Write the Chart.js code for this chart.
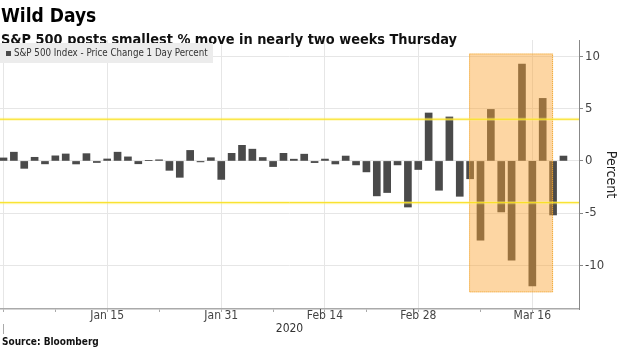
<!DOCTYPE html>
<html><head><meta charset="utf-8">
<script src="https://cdn.jsdelivr.net/npm/chart.js@4.4.1/dist/chart.umd.min.js"></script>
<style>
body{margin:0;background:#fff;}
#wrap{position:relative;width:620px;height:348px;overflow:hidden;font-family:"DejaVu Sans Condensed","DejaVu Sans",sans-serif;font-stretch:condensed;}
#c{position:absolute;left:0;top:0;}
.t{position:absolute;white-space:nowrap;color:#000;}
#title{left:1px;top:6px;font-size:19px;line-height:19px;font-weight:bold;}
#sub{left:1px;top:32px;font-size:14.4px;line-height:14px;font-weight:bold;color:#111;}
#legend{position:absolute;left:0;top:43px;width:213px;height:20px;background:#ececec;}
#legend .sq{position:absolute;left:6px;top:8px;width:5px;height:5px;background:#4a4a4a;}
#legend .lt{position:absolute;left:14px;top:5px;font-size:9.7px;line-height:10px;color:#333;white-space:nowrap;}
#src{left:2px;top:337px;font-size:10px;line-height:10px;font-weight:bold;color:#111;}
</style></head>
<body><div id="wrap">
<canvas id="c" width="620" height="348"></canvas>
<div class="t" id="title">Wild Days</div>
<div class="t" id="sub">S&amp;P 500 posts smallest % move in nearly two weeks Thursday</div>
<div id="legend"><div class="sq"></div><div class="lt">S&amp;P 500 Index - Price Change 1 Day Percent</div></div>
<div class="t" id="src">Source: Bloomberg</div>
</div>
<script>
const dates = ['Dec 31','Jan 2','Jan 3','Jan 6','Jan 7','Jan 8','Jan 9','Jan 10','Jan 13','Jan 14','Jan 15','Jan 16','Jan 17','Jan 21','Jan 22','Jan 23','Jan 24','Jan 27','Jan 28','Jan 29','Jan 30','Jan 31','Feb 3','Feb 4','Feb 5','Feb 6','Feb 7','Feb 10','Feb 11','Feb 12','Feb 13','Feb 14','Feb 18','Feb 19','Feb 20','Feb 21','Feb 24','Feb 25','Feb 26','Feb 27','Feb 28','Mar 2','Mar 3','Mar 4','Mar 5','Mar 6','Mar 9','Mar 10','Mar 11','Mar 12','Mar 13','Mar 16','Mar 17','Mar 18','Mar 19'];
const pctChange = [0.29,0.84,-0.71,0.35,-0.28,0.49,0.67,-0.29,0.70,-0.15,0.19,0.84,0.39,-0.27,0.03,0.11,-0.90,-1.57,1.01,-0.09,0.31,-1.77,0.73,1.50,1.13,0.33,-0.54,0.73,0.17,0.65,-0.16,0.18,-0.29,0.47,-0.38,-1.05,-3.35,-3.03,-0.38,-4.42,-0.82,4.60,-2.81,4.22,-3.39,-1.71,-7.60,4.94,-4.89,-9.51,9.29,-11.98,6.00,-5.18,0.47];
const labeledTicks = ['Jan 15','Jan 31','Feb 14','Feb 28','Mar 16'];
const minorTicks = ['Dec 31','Jan 8','Jan 23','Feb 7','Feb 21','Mar 9'];
const yTicks = [10,5,0,-5,-10];
const thresholds = [4,-4];
const highlightDates = ['Mar 6','Mar 18'];
const highlightValues = [-12.6, 10.3];
const yearLabel = '2020';
const yearStartDate = 'Dec 31';

const FONT = '"DejaVu Sans Condensed", "DejaVu Sans", sans-serif';
Chart.defaults.font.family = FONT;

const labelAt = {};
labeledTicks.forEach(d => { labelAt[dates.indexOf(d)] = d; });
const majorIdx = new Set([dates.indexOf(yearStartDate), ...labeledTicks.map(d => dates.indexOf(d))]);
const allTickIdx = [...new Set([...minorTicks, ...labeledTicks].map(d => dates.indexOf(d)))].sort((a,b)=>a-b);

const annot = {
  id: 'annot',
  afterDatasetsDraw(chart) {
    const {ctx, chartArea: a, scales: {x, y}} = chart;
    ctx.save();
    const bx0 = x.getPixelForValue(dates.indexOf(highlightDates[0]) - 0.1);
    const bx1 = x.getPixelForValue(dates.indexOf(highlightDates[1]));
    const by0 = y.getPixelForValue(highlightValues[1]);
    const by1 = y.getPixelForValue(highlightValues[0]);
    ctx.fillStyle = 'rgba(251,165,50,0.45)';
    ctx.fillRect(bx0, by0, bx1 - bx0, by1 - by0);
    ctx.setLineDash([1, 1]);
    ctx.strokeStyle = 'rgba(240,165,40,0.9)';
    ctx.lineWidth = 1;
    ctx.strokeRect(bx0 + 0.5, by0 + 0.5, bx1 - bx0 - 1, by1 - by0 - 1);
    ctx.setLineDash([]);
    thresholds.forEach(v => {
      const py = y.getPixelForValue(v);
      ctx.strokeStyle = 'rgba(255,240,120,0.45)';
      ctx.lineWidth = 3;
      ctx.beginPath(); ctx.moveTo(a.left, py); ctx.lineTo(a.right, py); ctx.stroke();
      ctx.strokeStyle = 'rgba(248,222,20,0.95)';
      ctx.lineWidth = 1;
      ctx.beginPath(); ctx.moveTo(a.left, py); ctx.lineTo(a.right, py); ctx.stroke();
    });
    ctx.restore();
  },
  afterDraw(chart) {
    const {ctx, scales: {x}} = chart;
    const px = Math.round(x.getPixelForValue(dates.indexOf(yearStartDate))) + 0.5;
    ctx.save();
    ctx.strokeStyle = '#aaa';
    ctx.lineWidth = 1;
    ctx.beginPath(); ctx.moveTo(px, x.top + 15); ctx.lineTo(px, x.top + 25); ctx.stroke();
    ctx.restore();
  }
};

new Chart(document.getElementById('c'), {
  type: 'bar',
  data: {
    datasets: [{
      label: 'S&P 500 Index - Price Change 1 Day Percent',
      data: dates.map((d, i) => ({x: i, y: pctChange[i]})),
      backgroundColor: '#4a4a4a',
      barThickness: 7
    }]
  },
  options: {
    responsive: false,
    animation: false,
    devicePixelRatio: 1,
    layout: {padding: {top: 40, bottom: 12, left: 0, right: 0}},
    plugins: {legend: {display: false}, tooltip: {enabled: false}},
    scales: {
      x: {
        type: 'linear',
        offset: false,
        min: -0.3375,
        max: 55.5,
        afterBuildTicks: s => { s.ticks = allTickIdx.map(v => ({value: v})); },
        afterFit: s => { s.height = 27; },
        ticks: {
          autoSkip: false, maxRotation: 0, padding: -2,
          callback: v => labelAt[v] || '',
          font: {size: 12, lineHeight: 1},
          color: '#444'
        },
        grid: {
          offset: false,
          color: c => (c.tick && majorIdx.has(c.tick.value)) ? '#e6e6e6' : 'rgba(0,0,0,0)',
          tickColor: '#aaa', tickLength: 3
        },
        border: {color: '#aaa', width: 1.5},
        title: {display: true, text: yearLabel, font: {size: 12, lineHeight: 1}, color: '#333', padding: {top: 0, bottom: 1}}
      },
      y: {
        position: 'right',
        min: -14.2,
        max: 11.6,
        afterBuildTicks: s => { s.ticks = yTicks.map(v => ({value: v})); },
        afterFit: s => { s.width = 41; },
        ticks: {padding: 2, font: {size: 13}, color: '#444', callback: v => String(v)},
        grid: {color: '#e6e6e6', tickColor: '#888', tickLength: 4},
        border: {color: '#888', width: 1},
        title: {display: true, text: 'Percent', font: {size: 14}, color: '#222', padding: {top: 1, bottom: 0}}
      }
    }
  },
  plugins: [annot]
});
</script>
</body></html>
